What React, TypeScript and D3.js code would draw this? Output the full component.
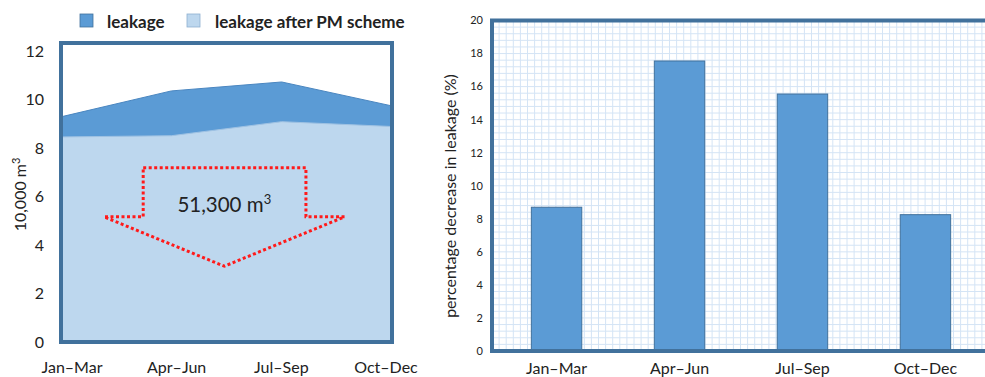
import React from "react";
import * as d3 from "d3";

const categories = ["Jan–Mar", "Apr–Jun", "Jul–Sep", "Oct–Dec"];
const leakage = [9.3, 10.37, 10.74, 9.75];
const leakageAfterPM = [8.47, 8.52, 9.1, 8.9];
const percentDecrease = [8.7, 17.55, 15.55, 8.25];
const leftTicks = [0, 2, 4, 6, 8, 10, 12];
const rightTicks = [0, 2, 4, 6, 8, 10, 12, 14, 16, 18, 20];
const seriesNames = ["leakage", "leakage after PM scheme"];
const annotation = "51,300";
// arrow outline in data space: [category index (continuous), value]
const arrowPts: [number, number][] = [
  [0.745, 7.2], [2.22, 7.2], [2.22, 5.17], [2.57, 5.17], [1.48, 3.13], [0.39, 5.17], [0.745, 5.17],
];

const DARK = "#5b9bd5";
const LIGHT = "#bdd7ee";
const FRAME = "#41719c";
const FONT = "Lato, 'Open Sans', sans-serif";
const TXT = "#222";

export default function App() {
  // Left chart
  const L = { x0: 61, x1: 392, y0: 342, y1: 43 };
  const xL = d3.scalePoint<string>().domain(categories).range([L.x0, L.x1]);
  const xLc = d3.scaleLinear().domain([0, 3]).range([L.x0, L.x1]);
  const xLabL = d3.scalePoint<string>().domain(categories).range([72, 386]);
  const yL = d3.scaleLinear().domain([0, 12.35]).range([L.y0, L.y1]);
  const area = d3
    .area<number>()
    .x((_, i) => xL(categories[i]) as number)
    .y0(yL(0))
    .y1((d) => yL(d));
  const line = d3.line<number>().x((_, i) => xL(categories[i]) as number).y((d) => yL(d));
  const arrowPath = d3.line<[number, number]>().x((d) => xLc(d[0])).y((d) => yL(d[1]))(arrowPts) + "Z";

  // Right chart
  const R = { x0: 492, x1: 990, y0: 351, y1: 20.5 };
  const xR = d3.scaleBand<string>().domain(categories).range([R.x0, R.x1]).paddingInner(0.59).paddingOuter(0.32);
  const yR = d3.scaleLinear().domain([0, 20]).range([R.y0, R.y1]);
  const hGrid = d3.range(0, 20.001, 0.4);
  const xGridScale = d3.scaleLinear().domain([0, 70]).range([R.x0, R.x0 + 70 * 7.1]);
  const vGrid = d3.range(0, 71, 1);

  return (
    <svg width={985} height={377} style={{ position: "absolute", left: 0, top: 0, background: "#fff" }} fontFamily={FONT}>
      {/* Legend */}
      <rect x={80} y={14} width={13} height={13} fill={DARK} stroke={FRAME} strokeWidth={0.8} />
      <text x={107} y={27.5} fontSize={17} fontWeight={700} fill={TXT}>{seriesNames[0]}</text>
      <rect x={187} y={14} width={13} height={13} fill={LIGHT} stroke="#8eb0d0" strokeWidth={0.8} />
      <text x={215} y={27.5} fontSize={17} fontWeight={700} fill={TXT}>{seriesNames[1]}</text>

      {/* Left chart */}
      <rect x={L.x0} y={L.y1} width={L.x1 - L.x0} height={L.y0 - L.y1} fill="#fff" />
      <path d={area(leakage) as string} fill={DARK} />
      <path d={line(leakage) as string} fill="none" stroke="#4a86c0" strokeWidth={1} />
      <path d={area(leakageAfterPM) as string} fill={LIGHT} />
      <path d={line(leakageAfterPM) as string} fill="none" stroke="#9fc2e3" strokeWidth={1} />
      <rect x={L.x0} y={L.y1} width={L.x1 - L.x0} height={L.y0 - L.y1} fill="none" stroke={FRAME} strokeWidth={4} />
      {leftTicks.map((t) => (
        <text key={t} x={44} y={yL(t)} dy="0.35em" textAnchor="end" fontSize={16} fill={TXT}>{t}</text>
      ))}
      {categories.map((c) => (
        <text key={c} x={xLabL(c)} y={373} textAnchor="middle" fontSize={16} fill={TXT}>{c}</text>
      ))}
      <text transform={`translate(26,${(L.y0 + L.y1) / 2 + 2}) rotate(-90)`} textAnchor="middle" fontSize={16} fill={TXT}>
        10,000 m<tspan dy={-6} fontSize={11}>3</tspan>
      </text>
      <path d={arrowPath} fill="none" stroke="#ff1a1a" strokeWidth={3} strokeDasharray="3 2.5" />
      <text x={xLc(1.48)} y={yL(5.35)} textAnchor="middle" fontSize={20.5} fill={TXT}>
        {annotation} m<tspan dy={-8} fontSize={13}>3</tspan>
      </text>

      {/* Right chart */}
      <rect x={R.x0} y={R.y1} width={R.x1 - R.x0} height={R.y0 - R.y1} fill="#fff" />
      <g stroke="#d4e4f5" strokeWidth={1}>
        {hGrid.map((v, i) => (
          <line key={"h" + i} x1={R.x0} x2={R.x1} y1={yR(v)} y2={yR(v)} />
        ))}
        {vGrid.map((v) => (
          <line key={"v" + v} x1={xGridScale(v)} x2={xGridScale(v)} y1={R.y1} y2={R.y0} />
        ))}
      </g>
      {categories.map((c, i) => (
        <rect key={c} x={xR(c)} y={yR(percentDecrease[i])} width={xR.bandwidth()} height={yR(0) - yR(percentDecrease[i])}
          fill={DARK} stroke={FRAME} strokeWidth={1} />
      ))}
      <rect x={R.x0} y={R.y1} width={R.x1 - R.x0 + 20} height={R.y0 - R.y1} fill="none" stroke={FRAME} strokeWidth={4} />
      {rightTicks.map((t) => (
        <text key={t} x={483} y={yR(t)} dy="0.35em" textAnchor="end" fontSize={11} fill={TXT}>{t}</text>
      ))}
      {categories.map((c) => (
        <text key={c} x={(xR(c) as number) + xR.bandwidth() / 2} y={374} textAnchor="middle" fontSize={16} fill={TXT}>{c}</text>
      ))}
      <text transform={`translate(456,196) rotate(-90)`} textAnchor="middle" fontSize={16} fill={TXT}>
        percentage decrease in leakage (%)
      </text>
    </svg>
  );
}
